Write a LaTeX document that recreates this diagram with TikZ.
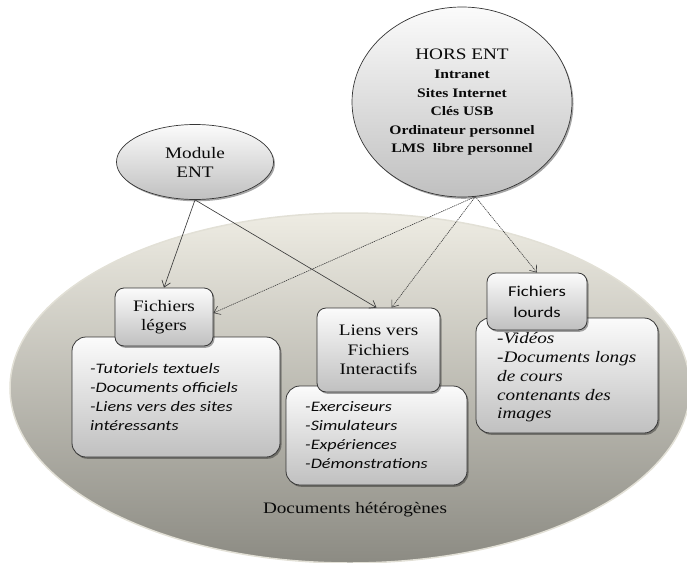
\documentclass[tikz,border=0pt]{standalone}
\usepackage{fontspec}
\setmainfont{Liberation Serif}[FakeStretch=1.2]
\newfontfamily\sansw{Carlito}[FakeStretch=1.25]
\usetikzlibrary{arrows.meta,shadows,shapes.geometric,calc}
\definecolor{bgtop}{HTML}{EEECE3}
\definecolor{bgbot}{HTML}{8C8B83}
\definecolor{bgrim}{HTML}{E2E0D6}
\definecolor{boxtop}{HTML}{FBFBFB}
\definecolor{boxbot}{HTML}{C0C0C0}
\definecolor{edge}{HTML}{363636}
\definecolor{ink}{HTML}{0A0A0A}
\definecolor{arrowc}{HTML}{3C3C3C}
\begin{document}
\begin{tikzpicture}[x=1pt,y=-1pt,
  every node/.style={text=ink},
  softshadow/.style={drop shadow={shadow xshift=1.5pt,shadow yshift=-1.8pt,opacity=0.35,fill=black}},
  bubble/.style={ellipse, draw=edge, line width=0.7pt, top color=boxtop, bottom color=boxbot,
    softshadow, inner sep=0pt, align=center, font=\fontsize{16}{19}\selectfont},
  tagbox/.style={rectangle, rounded corners=9pt, draw=edge, line width=0.8pt, top color=boxtop,
    bottom color=boxbot, softshadow, inner sep=0pt, align=center},
  listbox/.style={rectangle, rounded corners=14pt, draw=edge, line width=0.8pt, top color=boxtop,
    bottom color=boxbot, softshadow, inner sep=0pt},
  sanslist/.style={anchor=west, inner sep=0pt, align=left, font=\sansw\itshape\fontsize{14.5}{19}\selectfont},
  seriflist/.style={anchor=west, inner sep=0pt, align=left, font=\itshape\fontsize{16}{18.7}\selectfont},
  solidarrow/.style={draw=arrowc, line width=0.65pt, -{Straight Barb[length=6pt,width=9pt,line width=0.65pt]}},
  dotarrow/.style={draw=arrowc, line width=0.6pt, dash pattern=on 1.2pt off 0.8pt,
    -{Straight Barb[length=6pt,width=9pt,line width=0.6pt]}}
]
\useasboundingbox (0,0) rectangle (687,562);
\clip (0,0) rectangle (687,562);

% background ellipse
\node[ellipse, minimum width=680, minimum height=350, inner sep=0pt,
  top color=bgtop, bottom color=bgbot, draw=bgrim, line width=1.5pt] (bg) at (350,388) {};

% list boxes
\node[listbox, minimum width=208, minimum height=120] (legL) at (176,397) {};
\node[listbox, minimum width=181, minimum height=99] (lienL) at (376.5,435.5) {};
\node[listbox, minimum width=182, minimum height=115] (lourL) at (567,375.5) {};

% tag boxes
\node[tagbox, minimum width=98, minimum height=58, font=\fontsize{16}{19}\selectfont] (leg) at (164,317) {Fichiers\\légers};
\node[tagbox, minimum width=123, minimum height=84, font=\fontsize{16}{19.5}\selectfont] (lien) at (378.5,350) {Liens vers\\Fichiers\\Interactifs};
\node[tagbox, minimum width=100, minimum height=57, font=\sansw\fontsize{15}{21}\selectfont] (lour) at (537,301.5) {Fichiers\\lourds};

% list texts
\node[sanslist] (legT) at (90,397) {-Tutoriels textuels\\-Documents officiels\\-Liens vers des sites\\intéressants};
\node[sanslist] (lienT) at (305,435.5) {-Exerciseurs\\-Simulateurs\\-Expériences\\-Démonstrations};
\node[seriflist] (lourT) at (497,377.5) {-Vidéos\\-Documents longs\\de cours\\contenants des\\images};

% caption
\node[font=\fontsize{16}{19}\selectfont] (cap) at (355,510) {Documents hétérogènes};

% bubbles
\node[bubble, minimum width=157, minimum height=75] (mod) at (195,162) {Module\\ENT};
\node[bubble, minimum width=220, minimum height=190, font=\bfseries\fontsize{13}{18.5}\selectfont] (hors) at (462,102)
  {{\mdseries\fontsize{16}{19}\selectfont HORS ENT}\\[1pt]Intranet\\Sites Internet\\Clés USB\\Ordinateur personnel\\LMS~ libre personnel};

% connectors
\draw[solidarrow] (mod.south) -- (leg.north);
\draw[solidarrow] (mod.south) -- ([xshift=-2pt]lien.north);
\draw[dotarrow] (hors.-82) -- ([yshift=4pt]leg.east);
\draw[dotarrow] (hors.-82) -- ([xshift=13pt]lien.north);
\draw[dotarrow] (hors.-82) -- (lour.north);
\end{tikzpicture}
\end{document}
